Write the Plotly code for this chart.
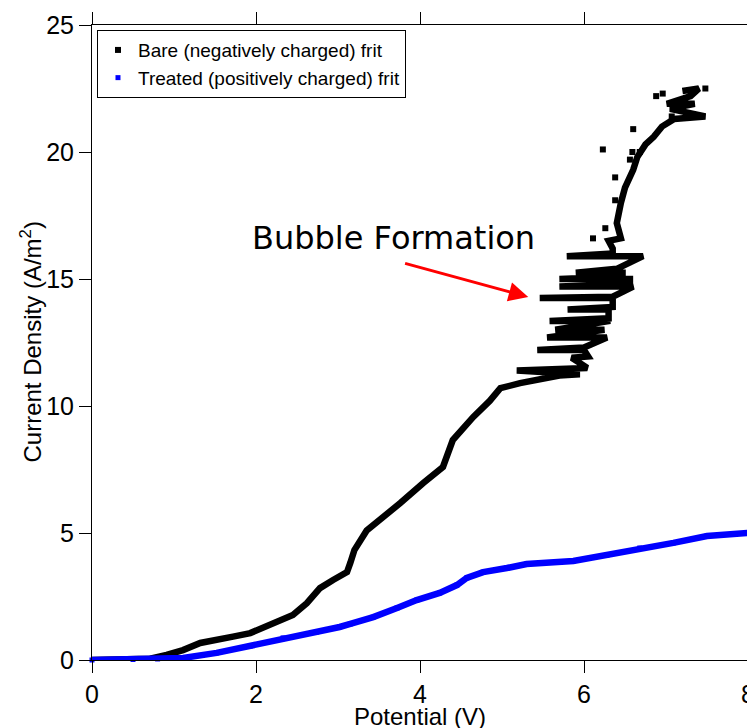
import plotly.graph_objects as go

# ---- data ----
bare_v = [0.0, 0.3, 0.5, 0.71, 0.91, 1.11, 1.32, 1.52, 1.72, 1.93, 2.13, 2.33, 2.45, 2.62, 2.78,
          2.94, 3.11, 3.15, 3.2, 3.35, 3.39, 3.76, 4.04, 4.28, 4.4, 4.65, 4.85, 4.98, 5.22, 5.7, 5.95,
          5.18, 6.04, 5.85, 6.05, 6.0, 5.43, 6.0, 6.28, 5.55, 6.25, 5.65, 6.32, 5.58, 6.3, 6.3, 5.8,
          6.35, 6.35, 5.46, 6.35, 6.6, 5.7, 6.56, 6.56, 5.7, 6.47, 6.47, 5.9, 6.4, 6.72, 5.79, 6.35,
          6.35, 6.3, 6.45, 6.4, 6.45, 6.5, 6.6, 6.65, 6.75, 6.85, 6.95, 7.1, 7.48, 7.05,
          7.35, 7.01, 7.3, 7.4, 7.2]
bare_j = [0.0, 0.0, 0.03, 0.05, 0.2, 0.39, 0.67, 0.82, 0.92, 1.06, 1.31, 1.6, 1.77, 2.24, 2.83,
          3.15, 3.46, 3.82, 4.33, 5.1, 5.2, 6.18, 6.97, 7.6, 8.66, 9.57, 10.2, 10.7, 10.9, 11.2, 11.25,
          11.4, 11.5, 11.9, 11.95, 12.2, 12.2, 12.3, 12.7, 12.7, 13.0, 13.0, 13.35, 13.35, 13.45, 13.8, 13.8,
          13.9, 14.25, 14.25, 14.3, 14.7, 14.7, 14.8, 15.0, 15.0, 15.1, 15.25, 15.25, 15.4, 15.9, 15.9, 16.0,
          16.2, 16.5, 16.6, 17.2, 18.0, 18.6, 19.3, 19.8, 20.3, 20.6, 21.0, 21.3, 21.4, 21.7,
          21.9, 21.9, 22.2, 22.5, 22.4]

bare_scatter_v = [6.23, 6.6, 6.88, 6.96, 6.38, 6.11, 6.56, 6.59, 6.68, 6.38, 7.07, 6.26, 7.48]
bare_scatter_j = [20.1, 20.9, 22.2, 22.3, 19.0, 16.6, 19.7, 20.0, 20.0, 18.1, 21.4, 17.0, 22.5]

treated_v = [0.0, 0.5, 0.8, 1.11, 1.52, 1.93, 2.33, 2.74, 3.02, 3.15, 3.43, 3.72, 3.96, 4.24,
             4.45, 4.57, 4.77, 5.06, 5.3, 5.87, 6.28, 6.68, 7.09, 7.5, 8.0]
treated_j = [0.0, 0.02, 0.04, 0.08, 0.28, 0.55, 0.87, 1.10, 1.30, 1.42, 1.69, 2.05, 2.36, 2.64,
             2.95, 3.23, 3.46, 3.62, 3.78, 3.90, 4.13, 4.41, 4.61, 4.88, 5.0]

x_ticks = [0, 2, 4, 6, 8]
y_ticks = [0, 5, 10, 15, 20, 25]

bare_name = "Bare (negatively charged) frit"
treated_name = "Treated (positively charged) frit"
x_title = "Potential (V)"
y_title = "Current Density (A/m<sup>2</sup>)"
note_text = "Bubble Formation"
note_pos = (1.93, 16.6)
arrow_tail = (3.80, 15.63)
arrow_head = (5.32, 14.29)

fig = go.Figure()

fig.add_trace(go.Scatter(x=bare_v, y=bare_j, mode="lines", line=dict(color="black", width=6.5),
                         legendgroup="bare", showlegend=False, cliponaxis=False))
fig.add_trace(go.Scatter(x=bare_scatter_v, y=bare_scatter_j, mode="markers", name=bare_name,
                         marker=dict(symbol="square", color="black", size=6),
                         legendgroup="bare", cliponaxis=False))
fig.add_trace(go.Scatter(x=treated_v, y=treated_j, mode="lines", line=dict(color="#0000FF", width=6.5),
                         legendgroup="treated", showlegend=False, cliponaxis=False))
fig.add_trace(go.Scatter(x=treated_v, y=treated_j, mode="markers", name=treated_name,
                         marker=dict(symbol="square", color="#0000FF", size=5),
                         legendgroup="treated", cliponaxis=False))

fig.add_annotation(x=arrow_head[0], y=arrow_head[1], ax=arrow_tail[0], ay=arrow_tail[1],
                   axref="x", ayref="y", xref="x", yref="y", text="", showarrow=True,
                   arrowhead=2, arrowsize=1.3, arrowwidth=3, arrowcolor="#FF0000")
fig.add_annotation(x=note_pos[0], y=note_pos[1], xref="x", yref="y", text=note_text, showarrow=False,
                   xanchor="left", yanchor="middle",
                   font=dict(family="DejaVu Sans", size=32, color="black"))

# axis titles
fig.add_annotation(x=0.5, y=-0.0882, xref="paper", yref="paper", text=x_title, showarrow=False,
                   xanchor="center", yanchor="middle",
                   font=dict(family="Liberation Sans", size=24, color="black"))
fig.add_annotation(x=-0.0945, y=0.5, xref="paper", yref="paper", text=y_title, showarrow=False,
                   xanchor="center", yanchor="middle", textangle=-90,
                   font=dict(family="Liberation Sans", size=24, color="black"))

axis_common = dict(showline=True, linecolor="black", linewidth=1, mirror="ticks",
                   ticks="outside", ticklen=12, tickwidth=1, tickcolor="black",
                   showgrid=False, zeroline=False, automargin=False,
                   tickfont=dict(family="Liberation Sans", size=25, color="black"))

# page body has an 8px margin, so the figure is 8px smaller and shifted
fig.update_layout(
    width=747, height=720,
    margin=dict(l=84, r=7, t=17, b=68, autoexpand=False),
    paper_bgcolor="white", plot_bgcolor="white",
    xaxis=dict(range=[0, 8], tickvals=x_ticks, **axis_common),
    yaxis=dict(range=[0, 25], tickvals=y_ticks, **axis_common),
    legend=dict(x=0.0076, y=0.992, xanchor="left", yanchor="top",
                bordercolor="black", borderwidth=1, bgcolor="white",
                font=dict(family="Liberation Sans", size=19, color="black"),
                tracegroupgap=0, itemwidth=30),
    showlegend=True,
)

fig.write_html("out.html")
